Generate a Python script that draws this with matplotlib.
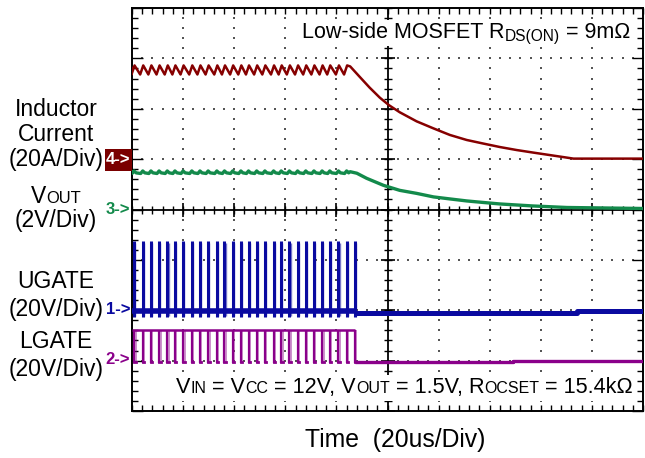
import matplotlib.pyplot as plt
import numpy as np

plt.rcParams['font.family'] = ['Liberation Sans', 'DejaVu Sans']

W, H = 645, 458

# scope screen: 10 x 8 divisions, values in divisions
# UGATE switching instants
pulse_t = [0.04, 0.21, 0.37, 0.53, 0.69, 0.84, 1.00, 1.17, 1.33, 1.49, 1.66, 1.81, 1.97, 2.13,
           2.28, 2.44, 2.60, 2.77, 2.92, 3.08, 3.24, 3.40, 3.56, 3.72, 3.87, 4.04, 4.20, 4.36]
# partial (lighter) UGATE spikes
glitch_t = [1.98, 2.28, 3.41, 3.56, 3.71]
glitch_h = [2.53, 2.74, 3.00, 3.19, 2.40]

# channel 4: inductor current (ground at 5 div, 20A/div)
il_valley, il_peak = 6.68, 6.86
il_tail_t = [4.27, 4.45, 4.65, 4.85, 5.03, 5.24, 5.57, 5.90, 6.22, 6.55, 6.87, 7.20, 7.53, 7.85, 8.18, 8.51, 8.64, 10.0]
il_tail_y = [6.84, 6.64, 6.42, 6.22, 6.07, 5.93, 5.75, 5.61, 5.48, 5.38, 5.31, 5.24, 5.18, 5.13, 5.08, 5.03, 5.01, 5.01]

# channel 3: VOUT (ground at 4 div, 2V/div)
vo_level, vo_ripple = 4.74, 0.05
vo_tail_t = [4.27, 4.40, 4.59, 4.92, 5.24, 5.57, 5.90, 6.22, 6.55, 6.87, 7.20, 7.85, 8.51, 10.0]
vo_tail_y = [4.75, 4.72, 4.62, 4.48, 4.38, 4.32, 4.25, 4.21, 4.17, 4.14, 4.11, 4.07, 4.04, 4.02]

# channel 1: UGATE (ground at 2 div, 20V/div)
ug_low, ug_high = 1.98, 3.38
ug_off_t = [4.36, 8.70, 8.70, 10.0]
ug_off_y = [1.95, 1.95, 1.99, 1.99]

# channel 2: LGATE (ground at 1 div, 20V/div)
lg_low, lg_high = 0.98, 1.61
lg_off_t = [4.36, 7.46, 7.46, 10.0]
lg_off_y = [0.97, 0.97, 0.99, 0.99]

c_il = '#860000'
c_vo = '#138a4b'
c_ug = '#0a0aa0'
c_lg = '#8a008a'

fig = plt.figure(figsize=(W / 100, H / 100), dpi=100)
ax = fig.add_axes([132 / W, 1 - 411 / H, (643 - 132) / W, (411 - 8) / H])
ax.set_xlim(0, 10)
ax.set_ylim(0, 8)

# dotted graticule
fine = np.arange(0, 10.01, 0.2)
for gy in [1, 2, 3, 5, 6, 7]:
    ax.scatter(fine, np.full(fine.size, gy), s=1.6, marker='s', color='#555555', linewidths=0, zorder=1)
fine_y = np.arange(0, 8.01, 0.2)
for gx in [1, 2, 3, 4, 6, 7, 8, 9]:
    ax.scatter(np.full(fine_y.size, gx), fine_y, s=1.6, marker='s', color='#555555', linewidths=0, zorder=1)

# centre cross with ticks
ax.axhline(4, color='k', lw=1.3, zorder=2)
ax.axvline(5, color='k', lw=1.3, zorder=2)
ax.plot(fine, np.full(fine.size, 4), ls='none', marker='|', ms=6, mew=1, color='k', zorder=2)
ax.plot(np.full(fine_y.size, 5), fine_y, ls='none', marker='_', ms=6, mew=1, color='k', zorder=2)
ax.plot(np.arange(0, 11), np.full(11, 4), ls='none', marker='|', ms=10, mew=1.2, color='k', zorder=2)
ax.plot(np.full(9, 5), np.arange(0, 9), ls='none', marker='_', ms=10, mew=1.2, color='k', zorder=2)

ax.set_xticks(np.arange(0, 11))
ax.set_xticks(fine, minor=True)
ax.set_yticks(np.arange(0, 9))
ax.set_yticks(fine_y, minor=True)
ax.tick_params(which='both', direction='in', top=True, right=True,
               labelbottom=False, labelleft=False, color='k', width=1)
ax.tick_params(axis='x', which='both', length=4)
ax.tick_params(axis='y', which='major', length=8)
ax.tick_params(axis='y', which='minor', length=4)
for sp in ax.spines.values():
    sp.set_linewidth(1.4)

# inductor current: sawtooth ripple built from switching instants, then decay
il_x, il_y = [0.0], [il_peak - 0.05]
for t in pulse_t:
    if t > 4.25:
        break
    il_x += [t - 0.05, t + 0.01]
    il_y += [il_valley, il_peak]
il_x += il_tail_t
il_y += il_tail_y
ax.plot(il_x, il_y, color=c_il, lw=1.8, zorder=4)

# VOUT
vo_x, vo_y = [0.0], [vo_level]
for t in pulse_t:
    if t > 4.25:
        break
    vo_x += [t - 0.04, t, t + 0.04]
    vo_y += [vo_level - vo_ripple / 2, vo_level + vo_ripple / 2, vo_level - vo_ripple / 4]
vo_x += vo_tail_t
vo_y += vo_tail_y
ax.plot(vo_x, vo_y, color=c_vo, lw=2.4, zorder=4)

# UGATE
ax.plot([0, pulse_t[-1]], [ug_low, ug_low], color=c_ug, lw=4, zorder=4, solid_capstyle='butt')
ax.plot(ug_off_t, ug_off_y, color=c_ug, lw=3.6, zorder=4, solid_capstyle='butt')
ax.vlines(pulse_t, ug_low - 0.12, ug_high, color=c_ug, lw=2.2, zorder=4)
ax.vlines(np.array(pulse_t) + 0.025, ug_low - 0.1, ug_high - 0.05, color=c_ug, lw=1, alpha=0.55, zorder=4)
ax.vlines(glitch_t, ug_low, glitch_h, color=c_ug, lw=1.2, alpha=0.6, zorder=4)

# LGATE
ax.plot([0, pulse_t[-1]], [lg_high, lg_high], color=c_lg, lw=1.8, zorder=4, solid_capstyle='butt')
ax.vlines(pulse_t, lg_low - 0.03, lg_high, color=c_lg, lw=1.6, zorder=4)
ax.vlines(np.array(pulse_t) + 0.03, lg_low, lg_high, color=c_lg, lw=1.1, alpha=0.55, zorder=4)
for t in pulse_t:
    ax.plot([t, t + 0.03], [lg_low, lg_low], color=c_lg, lw=2, zorder=4)
ax.plot(lg_off_t, lg_off_y, color=c_lg, lw=2.4, zorder=4, solid_capstyle='butt')

renderer = fig.canvas.get_renderer()


def rich(x, y, parts, ha='left', size=16.5, color='k', bg=False):
    # parts: (text, scale, drop in px); placed in pixel coordinates
    items = []
    total = 0
    for s, k, dy in parts:
        t = fig.text(0, 0, s, fontsize=size * k, va='baseline', ha='left', color=color)
        w = t.get_window_extent(renderer).width
        items.append((t, w, dy))
        total += w
    if ha == 'right':
        x -= total
    elif ha == 'center':
        x -= total / 2
    if bg:
        fig.patches.append(plt.Rectangle(((x - 4) / W, 1 - (y + 8) / H), (total + 8) / W, 26 / H,
                                         transform=fig.transFigure, facecolor='white', edgecolor='none'))
    for t, w, dy in items:
        t.set_position((x / W, 1 - (y + dy) / H))
        x += w


def label(x, y, s, size=16.5):
    fig.text(x / W, 1 - y / H, s, fontsize=size, va='baseline', ha='center')


label(56, 116, 'Inductor')
label(56, 141, 'Current')
label(56, 166, '(20A/Div)')
rich(56, 203, [('V', 1, 0), ('OUT', 0.72, 0)], ha='center')
label(56, 227, '(2V/Div)')
label(56, 288, 'UGATE')
label(56, 316, '(20V/Div)')
label(56, 348, 'LGATE')
label(56, 376, '(20V/Div)')

rich(630, 38, [('Low-side MOSFET R', 1, 0), ('DS(ON)', 0.72, 3), (' = 9m\u03a9', 1, 0)],
     ha='right', size=15.5, bg=True)
rich(633, 393, [('V', 1, 0), ('IN', 0.74, 0), (' = V', 1, 0), ('CC', 0.74, 0),
                (' = 12V, V', 1, 0), ('OUT', 0.74, 0), (' = 1.5V, R', 1, 0),
                ('OCSET', 0.74, 0), (' = 15.4k\u03a9', 1, 0)], ha='right', size=15.6, bg=True)
label(395, 447, 'Time  (20us/Div)', size=17.8)

# channel markers
fig.patches.append(plt.Rectangle((105 / W, 1 - 171 / H), 27 / W, 22 / H, transform=fig.transFigure,
                                 facecolor='#7a0000', edgecolor='none'))
mk = dict(fontsize=12, fontweight='bold', ha='center', va='center')
fig.text(118.5 / W, 1 - 160 / H, '4->', color='white', **mk)
fig.text(118 / W, 1 - 209 / H, '3->', color=c_vo, **mk)
fig.text(118 / W, 1 - 309 / H, '1->', color=c_ug, **mk)
fig.text(118 / W, 1 - 360 / H, '2->', color=c_lg, **mk)

fig.savefig('out.png', dpi=100)
